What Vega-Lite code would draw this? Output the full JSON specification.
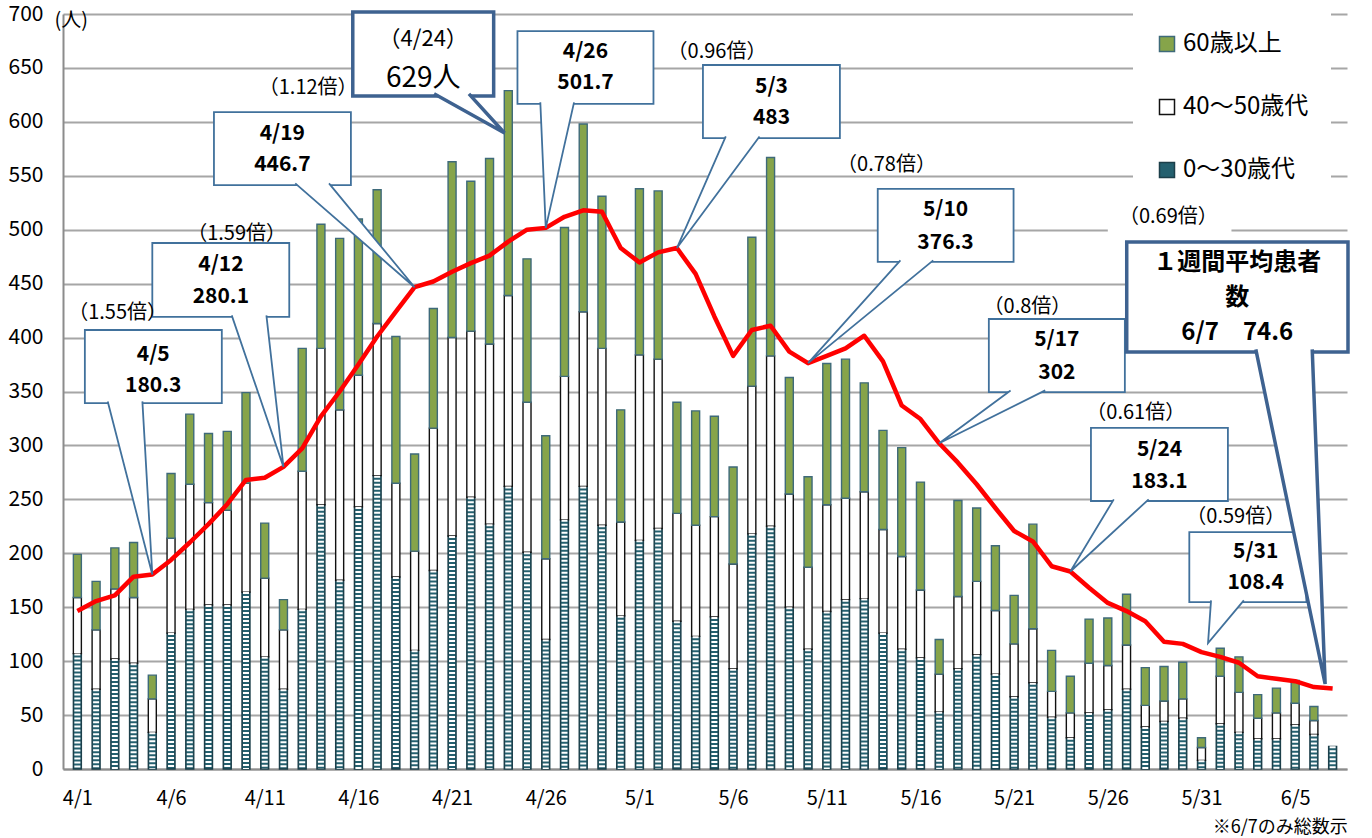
{
  "$schema": "https://vega.github.io/schema/vega-lite/v6.json",
  "width": 1284,
  "height": 755,
  "autosize": {"type": "none"},
  "padding": {"left": 63, "top": 14, "right": 25, "bottom": 69},
  "background": "white",
  "config": {"view": {"stroke": null}, "font": "Noto Sans CJK JP", "text": {"font": "Noto Sans CJK JP"}},
  "datasets": {
    "cases": [
      {"date": "4/1", "d": 0, "0～30歳代": 107, "40～50歳代": 52, "60歳以上": 40, "avg": 146.4},
      {"date": "4/2", "d": 1, "0～30歳代": 74, "40～50歳代": 55, "60歳以上": 45, "avg": 155.7},
      {"date": "4/3", "d": 2, "0～30歳代": 102, "40～50歳代": 65, "60歳以上": 38, "avg": 161},
      {"date": "4/4", "d": 3, "0～30歳代": 98, "40～50歳代": 61, "60歳以上": 51, "avg": 178.3},
      {"date": "4/5", "d": 4, "0～30歳代": 34, "40～50歳代": 31, "60歳以上": 22, "avg": 180.3},
      {"date": "4/6", "d": 5, "0～30歳代": 126, "40～50歳代": 88, "60歳以上": 60, "avg": 193.8},
      {"date": "4/7", "d": 6, "0～30歳代": 148, "40～50歳代": 116, "60歳以上": 65, "avg": 210},
      {"date": "4/8", "d": 7, "0～30歳代": 152, "40～50歳代": 95, "60歳以上": 64, "avg": 227},
      {"date": "4/9", "d": 8, "0～30歳代": 152, "40～50歳代": 88, "60歳以上": 73, "avg": 245.5},
      {"date": "4/10", "d": 9, "0～30歳代": 164, "40～50歳代": 101, "60歳以上": 84, "avg": 268},
      {"date": "4/11", "d": 10, "0～30歳代": 104, "40～50歳代": 73, "60歳以上": 51, "avg": 270},
      {"date": "4/12", "d": 11, "0～30歳代": 74, "40～50歳代": 55, "60歳以上": 28, "avg": 280.1},
      {"date": "4/13", "d": 12, "0～30歳代": 148, "40～50歳代": 128, "60歳以上": 114, "avg": 297.2},
      {"date": "4/14", "d": 13, "0～30歳代": 245, "40～50歳代": 145, "60歳以上": 115, "avg": 327},
      {"date": "4/15", "d": 14, "0～30歳代": 175, "40～50歳代": 158, "60歳以上": 159, "avg": 350},
      {"date": "4/16", "d": 15, "0～30歳代": 243, "40～50歳代": 122, "60歳以上": 145, "avg": 375},
      {"date": "4/17", "d": 16, "0～30歳代": 272, "40～50歳代": 141, "60歳以上": 124, "avg": 401},
      {"date": "4/18", "d": 17, "0～30歳代": 178, "40～50歳代": 87, "60歳以上": 136, "avg": 424},
      {"date": "4/19", "d": 18, "0～30歳代": 110, "40～50歳代": 92, "60歳以上": 90, "avg": 446.7},
      {"date": "4/20", "d": 19, "0～30歳代": 184, "40～50歳代": 132, "60歳以上": 111, "avg": 452},
      {"date": "4/21", "d": 20, "0～30歳代": 216, "40～50歳代": 184, "60歳以上": 163, "avg": 461},
      {"date": "4/22", "d": 21, "0～30歳代": 252, "40～50歳代": 154, "60歳以上": 139, "avg": 469},
      {"date": "4/23", "d": 22, "0～30歳代": 227, "40～50歳代": 167, "60歳以上": 172, "avg": 476},
      {"date": "4/24", "d": 23, "0～30歳代": 262, "40～50歳代": 177, "60歳以上": 190, "avg": 489},
      {"date": "4/25", "d": 24, "0～30歳代": 201, "40～50歳代": 139, "60歳以上": 133, "avg": 500},
      {"date": "4/26", "d": 25, "0～30歳代": 120, "40～50歳代": 75, "60歳以上": 114, "avg": 501.7},
      {"date": "4/27", "d": 26, "0～30歳代": 231, "40～50歳代": 133, "60歳以上": 138, "avg": 512},
      {"date": "4/28", "d": 27, "0～30歳代": 262, "40～50歳代": 162, "60歳以上": 174, "avg": 518},
      {"date": "4/29", "d": 28, "0～30歳代": 226, "40～50歳代": 164, "60歳以上": 141, "avg": 516.7},
      {"date": "4/30", "d": 29, "0～30歳代": 142, "40～50歳代": 87, "60歳以上": 104, "avg": 483},
      {"date": "5/1", "d": 30, "0～30歳代": 212, "40～50歳代": 172, "60歳以上": 154, "avg": 469.7},
      {"date": "5/2", "d": 31, "0～30歳代": 223, "40～50歳代": 157, "60歳以上": 156, "avg": 479},
      {"date": "5/3", "d": 32, "0～30歳代": 137, "40～50歳代": 100, "60歳以上": 103, "avg": 483},
      {"date": "5/4", "d": 33, "0～30歳代": 123, "40～50歳代": 103, "60歳以上": 106, "avg": 459},
      {"date": "5/5", "d": 34, "0～30歳代": 141, "40～50歳代": 93, "60歳以上": 93, "avg": 419.6},
      {"date": "5/6", "d": 35, "0～30歳代": 93, "40～50歳代": 97, "60歳以上": 90, "avg": 383},
      {"date": "5/7", "d": 36, "0～30歳代": 218, "40～50歳代": 137, "60歳以上": 138, "avg": 407},
      {"date": "5/8", "d": 37, "0～30歳代": 225, "40～50歳代": 158, "60歳以上": 184, "avg": 411},
      {"date": "5/9", "d": 38, "0～30歳代": 150, "40～50歳代": 105, "60歳以上": 108, "avg": 387},
      {"date": "5/10", "d": 39, "0～30歳代": 111, "40～50歳代": 76, "60歳以上": 84, "avg": 376.3},
      {"date": "5/11", "d": 40, "0～30歳代": 146, "40～50歳代": 99, "60歳以上": 131, "avg": 383},
      {"date": "5/12", "d": 41, "0～30歳代": 157, "40～50歳代": 94, "60歳以上": 129, "avg": 390},
      {"date": "5/13", "d": 42, "0～30歳代": 158, "40～50歳代": 99, "60歳以上": 101, "avg": 401.7},
      {"date": "5/14", "d": 43, "0～30歳代": 126, "40～50歳代": 96, "60歳以上": 92, "avg": 378},
      {"date": "5/15", "d": 44, "0～30歳代": 111, "40～50歳代": 86, "60歳以上": 101, "avg": 337},
      {"date": "5/16", "d": 45, "0～30歳代": 103, "40～50歳代": 63, "60歳以上": 100, "avg": 324.5},
      {"date": "5/17", "d": 46, "0～30歳代": 53, "40～50歳代": 35, "60歳以上": 32, "avg": 302},
      {"date": "5/18", "d": 47, "0～30歳代": 93, "40～50歳代": 67, "60歳以上": 89, "avg": 284},
      {"date": "5/19", "d": 48, "0～30歳代": 106, "40～50歳代": 68, "60歳以上": 68, "avg": 264},
      {"date": "5/20", "d": 49, "0～30歳代": 88, "40～50歳代": 59, "60歳以上": 60, "avg": 242},
      {"date": "5/21", "d": 50, "0～30歳代": 67, "40～50歳代": 49, "60歳以上": 45, "avg": 220.7},
      {"date": "5/22", "d": 51, "0～30歳代": 80, "40～50歳代": 50, "60歳以上": 97, "avg": 211},
      {"date": "5/23", "d": 52, "0～30歳代": 48, "40～50歳代": 24, "60歳以上": 38, "avg": 188},
      {"date": "5/24", "d": 53, "0～30歳代": 29, "40～50歳代": 23, "60歳以上": 34, "avg": 183.1},
      {"date": "5/25", "d": 54, "0～30歳代": 52, "40～50歳代": 46, "60歳以上": 41, "avg": 168},
      {"date": "5/26", "d": 55, "0～30歳代": 55, "40～50歳代": 41, "60歳以上": 44, "avg": 154},
      {"date": "5/27", "d": 56, "0～30歳代": 74, "40～50歳代": 41, "60歳以上": 47, "avg": 146.4},
      {"date": "5/28", "d": 57, "0～30歳代": 39, "40～50歳代": 20, "60歳以上": 35, "avg": 137},
      {"date": "5/29", "d": 58, "0～30歳代": 44, "40～50歳代": 19, "60歳以上": 32, "avg": 118},
      {"date": "5/30", "d": 59, "0～30歳代": 47, "40～50歳代": 18, "60歳以上": 34, "avg": 116},
      {"date": "5/31", "d": 60, "0～30歳代": 8, "40～50歳代": 12, "60歳以上": 9, "avg": 108.4},
      {"date": "6/1", "d": 61, "0～30歳代": 42, "40～50歳代": 44, "60歳以上": 26, "avg": 104},
      {"date": "6/2", "d": 62, "0～30歳代": 34, "40～50歳代": 37, "60歳以上": 33, "avg": 98.5},
      {"date": "6/3", "d": 63, "0～30歳代": 28, "40～50歳代": 19, "60歳以上": 22, "avg": 86},
      {"date": "6/4", "d": 64, "0～30歳代": 28, "40～50歳代": 24, "60歳以上": 23, "avg": 83.6},
      {"date": "6/5", "d": 65, "0～30歳代": 41, "40～50歳代": 20, "60歳以上": 21, "avg": 81.4},
      {"date": "6/6", "d": 66, "0～30歳代": 32, "40～50歳代": 13, "60歳以上": 13, "avg": 76},
      {"date": "6/7", "d": 67, "0～30歳代": 21, "40～50歳代": 0, "60歳以上": 0, "avg": 74.6}
    ],
    "boxes": [
      {"x1": 0.40, "x2": 7.71, "y1": 407.0, "y2": 339.3},
      {"x1": 4.00, "x2": 11.31, "y1": 487.7, "y2": 419.1},
      {"x1": 7.29, "x2": 14.60, "y1": 609.1, "y2": 541.4},
      {"x1": 23.49, "x2": 30.75, "y1": 684.2, "y2": 616.6},
      {"x1": 33.39, "x2": 40.70, "y1": 652.7, "y2": 585.0},
      {"x1": 42.72, "x2": 49.97, "y1": 537.8, "y2": 470.1},
      {"x1": 48.65, "x2": 55.91, "y1": 417.2, "y2": 349.5},
      {"x1": 54.10, "x2": 61.41, "y1": 316.2, "y2": 248.5},
      {"x1": 59.35, "x2": 65.6, "y1": 219.7, "y2": 154.8}
    ],
    "bigboxes": [
      {"x1": 14.70, "x2": 22.22, "y1": 701.9, "y2": 624.0},
      {"x1": 56.01, "x2": 67.82, "y1": 488.6, "y2": 386.6}
    ],
    "textbg": [
      {"x1": 55.0, "x2": 61.6, "y1": 497, "y2": 522}
    ],
    "tails": [
      {"id": 1, "k": 0, "x": 1.62, "y": 340.8}, {"id": 1, "k": 1, "x": 4.0, "y": 180.3}, {"id": 1, "k": 2, "x": 3.47, "y": 340.8},
      {"id": 2, "k": 0, "x": 8.24, "y": 420.6}, {"id": 2, "k": 1, "x": 11.0, "y": 280.1}, {"id": 2, "k": 2, "x": 10.09, "y": 420.6},
      {"id": 3, "k": 0, "x": 11.63, "y": 542.9}, {"id": 3, "k": 1, "x": 18.0, "y": 446.7}, {"id": 3, "k": 2, "x": 13.43, "y": 542.9},
      {"id": 5, "k": 0, "x": 24.71, "y": 618.1}, {"id": 5, "k": 1, "x": 25.0, "y": 501.7}, {"id": 5, "k": 2, "x": 26.51, "y": 618.1},
      {"id": 6, "k": 0, "x": 34.61, "y": 586.5}, {"id": 6, "k": 1, "x": 32.0, "y": 483}, {"id": 6, "k": 2, "x": 36.41, "y": 586.5},
      {"id": 7, "k": 0, "x": 43.93, "y": 471.6}, {"id": 7, "k": 1, "x": 39.0, "y": 376.3}, {"id": 7, "k": 2, "x": 45.68, "y": 471.6},
      {"id": 8, "k": 0, "x": 49.81, "y": 351.0}, {"id": 8, "k": 1, "x": 46.0, "y": 302}, {"id": 8, "k": 2, "x": 51.66, "y": 351.0},
      {"id": 9, "k": 0, "x": 55.32, "y": 250.0}, {"id": 9, "k": 1, "x": 53.0, "y": 183.1}, {"id": 9, "k": 2, "x": 57.18, "y": 250.0},
      {"id": 10, "k": 0, "x": 60.51, "y": 156.3}, {"id": 10, "k": 1, "x": 60.35, "y": 116.8}, {"id": 10, "k": 2, "x": 62.26, "y": 156.3}
    ],
    "bigtails": [
      {"id": 4, "k": 0, "x": 19.04, "y": 626.0}, {"id": 4, "k": 1, "x": 22.8, "y": 589.7}, {"id": 4, "k": 2, "x": 20.9, "y": 626.0},
      {"id": 11, "k": 0, "x": 62.9, "y": 389.0}, {"id": 11, "k": 1, "x": 66.6, "y": 78.8}, {"id": 11, "k": 2, "x": 65.91, "y": 389.0}
    ],
    "boldtext": [
      {"x": 4.05, "y": 383.8, "t": "4/5"}, {"x": 4.05, "y": 355.1, "t": "180.3"},
      {"x": 7.66, "y": 467.3, "t": "4/12"}, {"x": 7.66, "y": 437.6, "t": "280.1"},
      {"x": 10.94, "y": 588.7, "t": "4/19"}, {"x": 10.94, "y": 560.0, "t": "446.7"},
      {"x": 27.12, "y": 664.8, "t": "4/26"}, {"x": 27.12, "y": 636.0, "t": "501.7"},
      {"x": 37.05, "y": 632.3, "t": "5/3"}, {"x": 37.05, "y": 603.6, "t": "483"},
      {"x": 46.34, "y": 518.3, "t": "5/10"}, {"x": 46.34, "y": 487.7, "t": "376.3"},
      {"x": 52.28, "y": 397.7, "t": "5/17"}, {"x": 52.28, "y": 367.1, "t": "302"},
      {"x": 57.76, "y": 295.8, "t": "5/24"}, {"x": 57.76, "y": 266.1, "t": "183.1"},
      {"x": 62.89, "y": 201.2, "t": "5/31"}, {"x": 62.89, "y": 172.4, "t": "108.4"}
    ],
    "bigboldtext": [
      {"x": 61.91, "y": 469.1, "t": "１週間平均患者"},
      {"x": 61.91, "y": 436.7, "t": "数"},
      {"x": 61.91, "y": 404.2, "t": "6/7　74.6"}
    ],
    "ratiotext": [
      {"x": 2.15, "y": 422.8, "t": "（1.55倍）"},
      {"x": 8.50, "y": 496.3, "t": "（1.59倍）"},
      {"x": 12.32, "y": 631.4, "t": "（1.12倍）"},
      {"x": 34.14, "y": 664.8, "t": "（0.96倍）"},
      {"x": 43.19, "y": 560.0, "t": "（0.78倍）"},
      {"x": 50.71, "y": 428.3, "t": "（0.8倍）"},
      {"x": 56.49, "y": 330.1, "t": "（0.61倍）"},
      {"x": 61.83, "y": 233.6, "t": "（0.59倍）"},
      {"x": 58.23, "y": 511.8, "t": "（0.69倍）"}
    ],
    "peakdate": [
      {"x": 18.46, "y": 676.5, "t": "（4/24）"}
    ],
    "peaktext": [
      {"x": 18.46, "y": 640.0, "t": "629人"}
    ],
    "note": [
      {"x": 64.2, "y": -54.5, "t": "※6/7のみ総数示"}
    ]
  },
  "layer": [
    {
      "data": {"name": "cases"},
      "transform": [
        {"fold": ["0～30歳代", "40～50歳代", "60歳以上"], "as": ["key", "n"]},
        {"filter": "datum.n > 0"}
      ],
      "mark": {"type": "bar", "size": 8, "strokeWidth": 1.4},
      "encoding": {
        "x": {
          "field": "d", "type": "quantitative",
          "scale": {"domain": [-0.5, 67.5], "nice": false, "zero": false},
          "axis": {
            "values": [0, 5, 10, 15, 20, 25, 30, 35, 40, 45, 50, 55, 60, 65],
            "labelExpr": "datum.value < 30 ? '4/' + (datum.value + 1) : datum.value < 61 ? '5/' + (datum.value - 29) : '6/' + (datum.value - 60)",
            "grid": false, "ticks": false, "domainColor": "#8C8C8C", "domainWidth": 2,
            "labelFontSize": 20, "labelPadding": 19, "labelColor": "#000", "labelFlush": false, "labelOverlap": false,
            "labelFont": "Noto Sans CJK JP", "title": null
          }
        },
        "y": {
          "field": "n", "type": "quantitative", "stack": "zero",
          "scale": {"domain": [0, 700], "nice": false},
          "axis": {
            "values": [0, 50, 100, 150, 200, 250, 300, 350, 400, 450, 500, 550, 600, 650, 700],
            "grid": true, "gridColor": "#A6A6A6", "gridWidth": 2, "ticks": false,
            "domainColor": "#8C8C8C", "domainWidth": 2,
            "labelFontSize": 21, "labelPadding": 20, "labelColor": "#000", "labelFont": "Noto Sans CJK JP",
            "title": "(人)", "titleAngle": 0, "titleAlign": "left", "titleBaseline": "middle",
            "titleX": -9, "titleY": 6, "titleFontSize": 20, "titleFontWeight": "normal", "titleColor": "#000",
            "titleFont": "Noto Sans CJK JP"
          }
        },
        "color": {
          "field": "key", "type": "nominal",
          "scale": {"domain": ["60歳以上", "40～50歳代", "0～30歳代"], "range": ["#86A44A", "#FFFFFF", "#24606F"]},
          "legend": {
            "orient": "none", "legendX": 1070, "legendY": -4, "fillColor": "white", "padding": 22,
            "title": null, "labelFontSize": 24, "labelFont": "Noto Sans CJK JP", "labelColor": "#000",
            "symbolType": "square", "symbolSize": 225, "symbolStrokeWidth": 1.5, "symbolStrokeColor": "#2A3F48",
            "rowPadding": 39, "labelOffset": 4
          }
        },
        "stroke": {
          "field": "key", "type": "nominal",
          "scale": {"domain": ["60歳以上", "40～50歳代", "0～30歳代"], "range": ["#3E6A7A", "#111111", "#1C3F4A"]},
          "legend": null
        },
        "order": {"field": "key", "type": "ordinal", "sort": "ascending"}
      }
    },
    {
      "data": {"name": "cases"},
      "mark": {"type": "rule", "strokeWidth": 6, "strokeDash": [2, 2], "color": "#FFFFFF"},
      "encoding": {
        "x": {"field": "d", "type": "quantitative", "scale": {"domain": [-0.5, 67.5], "nice": false, "zero": false}},
        "y": {"field": "0～30歳代", "type": "quantitative", "scale": {"domain": [0, 700], "nice": false}},
        "y2": {"datum": 0}
      }
    },
    {
      "data": {"name": "cases"},
      "mark": {"type": "line", "color": "#FF0000", "strokeWidth": 4.5, "strokeJoin": "round"},
      "encoding": {
        "x": {"field": "d", "type": "quantitative", "scale": {"domain": [-0.5, 67.5], "nice": false, "zero": false}},
        "y": {"field": "avg", "type": "quantitative", "scale": {"domain": [0, 700], "nice": false}}
      }
    },
    {
      "data": {"name": "textbg"},
      "mark": {"type": "rect", "fill": "white"},
      "encoding": {
        "x": {"field": "x1", "type": "quantitative", "scale": {"domain": [-0.5, 67.5], "nice": false, "zero": false}},
        "x2": {"field": "x2"},
        "y": {"field": "y1", "type": "quantitative", "scale": {"domain": [0, 700], "nice": false}},
        "y2": {"field": "y2"}
      }
    },
    {
      "data": {"name": "boxes"},
      "mark": {"type": "rect", "fill": "white", "stroke": "#41719C", "strokeWidth": 1.8},
      "encoding": {
        "x": {"field": "x1", "type": "quantitative", "scale": {"domain": [-0.5, 67.5], "nice": false, "zero": false}},
        "x2": {"field": "x2"},
        "y": {"field": "y1", "type": "quantitative", "scale": {"domain": [0, 700], "nice": false}},
        "y2": {"field": "y2"}
      }
    },
    {
      "data": {"name": "tails"},
      "mark": {"type": "line", "fill": "white", "stroke": "#41719C", "strokeWidth": 1.8},
      "encoding": {
        "x": {"field": "x", "type": "quantitative", "scale": {"domain": [-0.5, 67.5], "nice": false, "zero": false}},
        "y": {"field": "y", "type": "quantitative", "scale": {"domain": [0, 700], "nice": false}},
        "detail": {"field": "id", "type": "nominal"},
        "order": {"field": "k", "type": "quantitative"}
      }
    },
    {
      "data": {"name": "bigboxes"},
      "mark": {"type": "rect", "fill": "white", "stroke": "#3E6290", "strokeWidth": 3.5},
      "encoding": {
        "x": {"field": "x1", "type": "quantitative", "scale": {"domain": [-0.5, 67.5], "nice": false, "zero": false}},
        "x2": {"field": "x2"},
        "y": {"field": "y1", "type": "quantitative", "scale": {"domain": [0, 700], "nice": false}},
        "y2": {"field": "y2"}
      }
    },
    {
      "data": {"name": "bigtails"},
      "mark": {"type": "line", "fill": "white", "stroke": "#3E6290", "strokeWidth": 3.5},
      "encoding": {
        "x": {"field": "x", "type": "quantitative", "scale": {"domain": [-0.5, 67.5], "nice": false, "zero": false}},
        "y": {"field": "y", "type": "quantitative", "scale": {"domain": [0, 700], "nice": false}},
        "detail": {"field": "id", "type": "nominal"},
        "order": {"field": "k", "type": "quantitative"}
      }
    },
    {
      "data": {"name": "boldtext"},
      "mark": {"type": "text", "fontSize": 21, "fontWeight": "bold", "color": "#000", "align": "center", "baseline": "middle", "font": "Noto Sans CJK JP"},
      "encoding": {
        "x": {"field": "x", "type": "quantitative", "scale": {"domain": [-0.5, 67.5], "nice": false, "zero": false}},
        "y": {"field": "y", "type": "quantitative", "scale": {"domain": [0, 700], "nice": false}},
        "text": {"field": "t"}
      }
    },
    {
      "data": {"name": "bigboldtext"},
      "mark": {"type": "text", "fontSize": 24, "fontWeight": "bold", "color": "#000", "align": "center", "baseline": "middle", "font": "Noto Sans CJK JP"},
      "encoding": {
        "x": {"field": "x", "type": "quantitative", "scale": {"domain": [-0.5, 67.5], "nice": false, "zero": false}},
        "y": {"field": "y", "type": "quantitative", "scale": {"domain": [0, 700], "nice": false}},
        "text": {"field": "t"}
      }
    },
    {
      "data": {"name": "ratiotext"},
      "mark": {"type": "text", "fontSize": 20, "color": "#000", "align": "center", "baseline": "middle", "font": "Noto Sans CJK JP"},
      "encoding": {
        "x": {"field": "x", "type": "quantitative", "scale": {"domain": [-0.5, 67.5], "nice": false, "zero": false}},
        "y": {"field": "y", "type": "quantitative", "scale": {"domain": [0, 700], "nice": false}},
        "text": {"field": "t"}
      }
    },
    {
      "data": {"name": "peakdate"},
      "mark": {"type": "text", "fontSize": 22, "color": "#000", "align": "center", "baseline": "middle", "font": "Noto Sans CJK JP"},
      "encoding": {
        "x": {"field": "x", "type": "quantitative", "scale": {"domain": [-0.5, 67.5], "nice": false, "zero": false}},
        "y": {"field": "y", "type": "quantitative", "scale": {"domain": [0, 700], "nice": false}},
        "text": {"field": "t"}
      }
    },
    {
      "data": {"name": "peaktext"},
      "mark": {"type": "text", "fontSize": 28, "color": "#000", "align": "center", "baseline": "middle", "font": "Noto Sans CJK JP"},
      "encoding": {
        "x": {"field": "x", "type": "quantitative", "scale": {"domain": [-0.5, 67.5], "nice": false, "zero": false}},
        "y": {"field": "y", "type": "quantitative", "scale": {"domain": [0, 700], "nice": false}},
        "text": {"field": "t"}
      }
    },
    {
      "data": {"name": "note"},
      "mark": {"type": "text", "fontSize": 18, "color": "#000", "align": "center", "baseline": "middle", "font": "Noto Sans CJK JP"},
      "encoding": {
        "x": {"field": "x", "type": "quantitative", "scale": {"domain": [-0.5, 67.5], "nice": false, "zero": false}},
        "y": {"field": "y", "type": "quantitative", "scale": {"domain": [0, 700], "nice": false}},
        "text": {"field": "t"}
      }
    }
  ]
}
